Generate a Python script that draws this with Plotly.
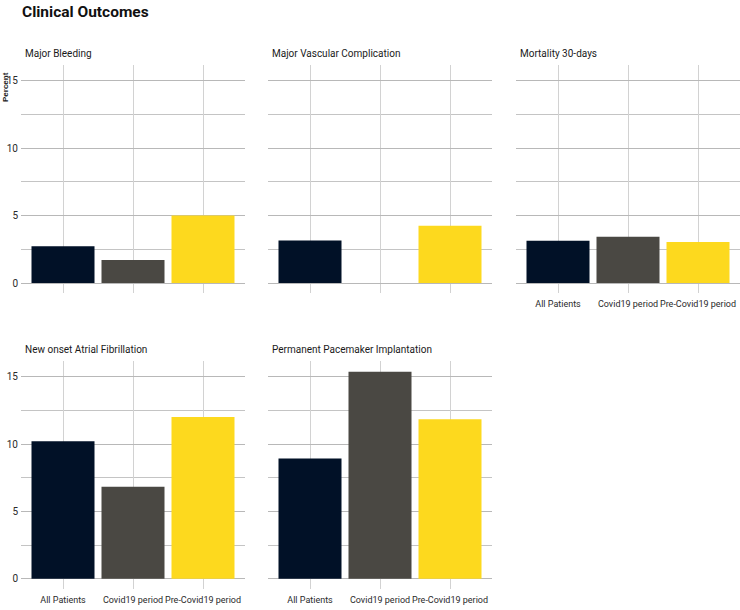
import plotly.graph_objects as go

categories = ["All Patients", "Covid19 period", "Pre-Covid19 period"]
panel_titles = [
    "Major Bleeding",
    "Major Vascular Complication",
    "Mortality 30-days",
    "New onset Atrial Fibrillation",
    "Permanent Pacemaker Implantation",
]
major_bleeding = [2.72, 1.71, 5.0]
major_vascular = [3.15, 0.0, 4.25]
mortality_30d = [3.13, 3.43, 3.04]
new_onset_af = [10.2, 6.83, 12.0]
pacemaker = [8.93, 15.37, 11.83]
bar_colors = ["#011127", "#4a4843", "#fdd91e"]
y_ticks = [0, 5, 10, 15]

series = [major_bleeding, major_vascular, mortality_30d, new_onset_af, pacemaker]

W, H = 740, 610
FONT = "Liberation Sans Narrow, Arial Narrow, Roboto, sans-serif"

cols_px = [(21, 245), (268, 492), (516, 740)]
rows_px = [(64.7, 293.4), (360.9, 589.1)]
positions = [(0, 0), (0, 1), (0, 2), (1, 0), (1, 1)]
show_x_labels = [False, False, True, True, True]

fig = go.Figure()
annotations = []
for i, (vals, title) in enumerate(zip(series, panel_titles)):
    r, c = positions[i]
    x0, x1 = cols_px[c]
    y0, y1 = rows_px[r]
    xa = f"xaxis{i+1}" if i else "xaxis"
    ya = f"yaxis{i+1}" if i else "yaxis"
    xref = f"x{i+1}" if i else "x"
    yref = f"y{i+1}" if i else "y"
    fig.add_trace(go.Bar(
        x=categories, y=vals, marker=dict(color=bar_colors, line=dict(width=0)),
        width=0.9, xaxis=xref, yaxis=yref, showlegend=False,
    ))
    fig.layout[xa] = dict(
        domain=[x0 / W, x1 / W], anchor=yref, type="category",
        range=[-0.6, 2.6], showgrid=True, gridcolor="#d2d2d2", gridwidth=1,
        showline=False, zeroline=False, ticks="", automargin=False, tickangle=0,
        showticklabels=show_x_labels[i], ticklabelstandoff=4,
        tickfont=dict(family=FONT, size=9, color="#2a2a2a"),
    )
    fig.layout[ya] = dict(
        domain=[1 - y1 / H, 1 - y0 / H], anchor=xref, automargin=False,
        range=[-0.77, 16.17], tickvals=y_ticks, showgrid=True,
        gridcolor="#b8b8b8", gridwidth=1, zeroline=False, showline=False,
        ticks="", showticklabels=(c == 0), ticklabelstandoff=2,
        minor=dict(tickvals=[2.5, 7.5, 12.5], showgrid=True, gridcolor="#c4c4c4", gridwidth=1),
        tickfont=dict(family=FONT, size=10, color="#2a2a2a"),
    )
    annotations.append(dict(
        text=title, xref="paper", yref="paper", x=(x0 + 2) / W, y=1 - (y0 - 11) / H,
        xanchor="left", yanchor="middle", showarrow=False,
        font=dict(family=FONT, size=10, color="#1a1a1a"),
    ))

annotations.append(dict(
    text="<b>Clinical Outcomes</b>", xref="paper", yref="paper", x=20 / W, y=1 - 12 / H,
    xanchor="left", yanchor="middle", showarrow=False,
    font=dict(family=FONT, size=15.5, color="#111111"),
))
annotations.append(dict(
    text="<b>Percent</b>", xref="paper", yref="paper", x=5 / W, y=1 - 87 / H,
    xanchor="center", yanchor="middle", showarrow=False, textangle=-90,
    font=dict(family="Liberation Sans, Arial, sans-serif", size=8, color="#222222"),
))

fig.update_layout(
    width=W, height=H, margin=dict(l=0, r=0, t=0, b=0),
    plot_bgcolor="white", paper_bgcolor="white", bargap=0.1,
    annotations=annotations,
)

fig.write_html("out.html", config={"displayModeBar": False},
               post_script="document.body.style.margin='0px';")
